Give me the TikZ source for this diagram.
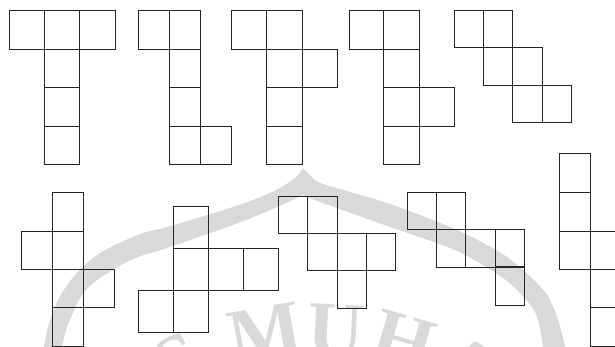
\documentclass[tikz,border=0pt]{standalone}
\usepackage{fontspec}
\newfontfamily\wmfont{Liberation Serif}
\begin{document}
\begin{tikzpicture}[x=1pt,y=-1pt,
  cell/.style={draw=black!85,line width=0.9pt},
  wm/.style={fill=black!15,draw=none},
  wmletter/.style={text=black!15,inner sep=0pt,anchor=north,font=\wmfont\bfseries\fontsize{78}{78}\selectfont}]
\useasboundingbox (0,0) rectangle (615,347);
\clip (0,0) rectangle (615,347);
% ---- watermark arch ----
\fill[wm] plot[smooth] coordinates {(44,347) (48,327) (58,300) (75,275) (100,253) (140,234) (167,227) (233,207) (270,193) (294,179) (303,168)}
  -- plot[smooth] coordinates {(303,168) (312,177) (323,184) (390,204) (457,230) (507,257) (545,292) (558,320) (565,347)}
  -- plot[smooth] coordinates {(543,347) (535,312) (507,281) (457,251) (390,227) (323,203) (310,198) (303,195)}
  -- plot[smooth] coordinates {(303,195) (275,208) (233,225) (167,248) (133,259) (100,278) (82,295) (67,327) (62,347)}
  -- cycle;
% ---- watermark letters ----
\node[wmletter,rotate=27] (wS) at (166,338) {S};
\node[wmletter,rotate=10] (wM) at (261,308) {M};
\node[wmletter,rotate=-3] (wU) at (337,305) {U};
\node[wmletter,rotate=-16] (wH) at (411,317) {H};
\node[wmletter,rotate=-29] (wA) at (480,344) {A};
% ---- net 1 ----
\draw[cell] (9.3,10.3) rectangle (44.3,49);
\draw[cell] (44.3,10.3) rectangle (79.3,49);
\draw[cell] (79.3,10.3) rectangle (115,49);
\draw[cell] (44.3,49) rectangle (79.3,87.7);
\draw[cell] (44.3,87.7) rectangle (79.3,126);
\draw[cell] (44.3,126) rectangle (79.3,164.7);
% ---- net 2 ----
\draw[cell] (138.3,10.3) rectangle (169.3,49);
\draw[cell] (169.3,10.3) rectangle (200.3,49);
\draw[cell] (169.3,49) rectangle (200.3,87.7);
\draw[cell] (169.3,87.7) rectangle (200.3,126);
\draw[cell] (169.3,126) rectangle (200.3,164.7);
\draw[cell] (200.3,126) rectangle (231.7,164.7);
% ---- net 3 ----
\draw[cell] (231.7,10.7) rectangle (266.7,49);
\draw[cell] (266.7,10.7) rectangle (302,49);
\draw[cell] (266.7,49) rectangle (302,87.7);
\draw[cell] (302,49) rectangle (337.3,87.7);
\draw[cell] (266.7,87.7) rectangle (302,126);
\draw[cell] (266.7,126) rectangle (302,164.7);
% ---- net 4 ----
\draw[cell] (349,10.3) rectangle (383.7,49);
\draw[cell] (383.7,10.3) rectangle (419.3,49);
\draw[cell] (383.7,49) rectangle (419.3,87.7);
\draw[cell] (383.7,87.7) rectangle (419.3,126);
\draw[cell] (419.3,87.7) rectangle (454.3,126);
\draw[cell] (383.7,126) rectangle (419.3,164.7);
% ---- net 5 ----
\draw[cell] (454.3,10.7) rectangle (483.3,47.7);
\draw[cell] (483.3,10.7) rectangle (512.7,47.7);
\draw[cell] (483.3,47.7) rectangle (512.7,85);
\draw[cell] (512.7,47.7) rectangle (542.3,85);
\draw[cell] (512.7,85) rectangle (542.3,122.3);
\draw[cell] (542.3,85) rectangle (571.3,122.3);
% ---- net 6 ----
\draw[cell] (52.3,192.3) rectangle (83.3,231);
\draw[cell] (21,231) rectangle (52.3,269.3);
\draw[cell] (52.3,231) rectangle (83.3,269.3);
\draw[cell] (52.3,269.3) rectangle (83.3,307.7);
\draw[cell] (83.3,269.3) rectangle (114.7,307.7);
\draw[cell] (52.3,307.7) rectangle (83.3,346);
% ---- net 7 ----
\draw[cell] (173.3,206.7) rectangle (208.7,248.3);
\draw[cell] (173.3,248.3) rectangle (208.7,290.3);
\draw[cell] (208.7,248.3) rectangle (243.7,290.3);
\draw[cell] (243.7,248.3) rectangle (278.7,290.3);
\draw[cell] (138.3,290.3) rectangle (173.3,332);
\draw[cell] (173.3,290.3) rectangle (208.7,332);
% ---- net 8 ----
\draw[cell] (278.3,196.3) rectangle (307.7,233.3);
\draw[cell] (307.7,196.3) rectangle (337,233.3);
\draw[cell] (307.7,233.3) rectangle (337,270.7);
\draw[cell] (337,233.3) rectangle (366.7,270.7);
\draw[cell] (366.7,233.3) rectangle (395.7,270.7);
\draw[cell] (337,270.7) rectangle (366.7,308);
% ---- net 9 ----
\draw[cell] (407.7,192.3) rectangle (436.7,229.7);
\draw[cell] (436.7,192.3) rectangle (465.7,229.7);
\draw[cell] (436.7,229.7) rectangle (465.7,267.3);
\draw[cell] (465.7,229.7) rectangle (495.3,267.3);
\draw[cell] (495.3,229.7) rectangle (524.3,267.3);
\draw[cell] (495.3,267.3) rectangle (524.3,305.3);
\draw[cell,line width=2pt] (495.3,267.3) -- (524.3,267.3);
% ---- net 10 ----
\draw[cell] (559.3,153.7) rectangle (590.7,192.3);
\draw[cell] (559.3,192.3) rectangle (590.7,231);
\draw[cell] (559.3,231) rectangle (590.7,269.3);
\draw[cell] (590.7,231) rectangle (622,269.3);
\draw[cell] (590.7,269.3) rectangle (622,307.7);
\draw[cell] (590.7,307.7) rectangle (622,346);
\end{tikzpicture}
\end{document}
